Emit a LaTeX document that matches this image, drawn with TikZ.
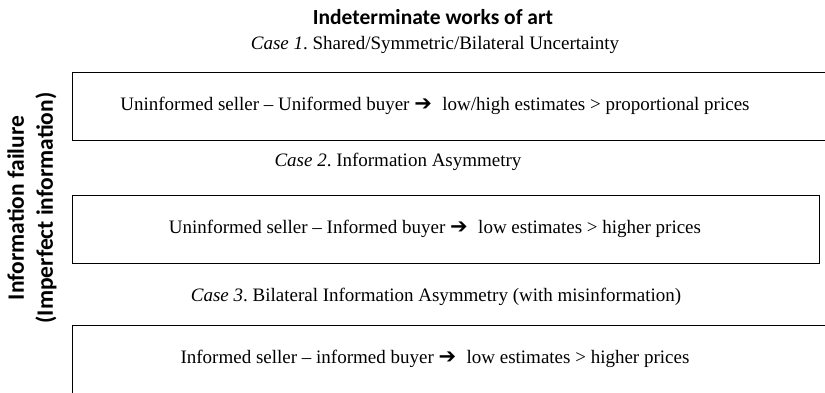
\documentclass[tikz,border=0pt]{standalone}
\usepackage{fontspec}
\setmainfont{Liberation Serif}
\newfontfamily\headfont{Carlito}
\newfontfamily\arrowfont{DejaVu Sans}
\usetikzlibrary{positioning}
\frenchspacing
\newcommand{\infoArrow}{{\arrowfont\fontsize{21}{23}\selectfont ➔}\hspace{0.55em}}

\begin{document}
\begin{tikzpicture}[x=1pt, y=-1pt,
    caseBox/.style={draw, line width=1.3pt, anchor=north west, minimum height=68pt},
    caseText/.style={inner sep=0pt, font=\fontsize{19}{23}\selectfont},
    headText/.style={inner sep=0pt, font=\headfont\bfseries\fontsize{23.5}{29}\selectfont}]
    \clip (0,0) rectangle (825,392);
    % heading
    \node[headText, font=\headfont\bfseries\fontsize{21.5}{26}\selectfont] (title) at (433,17) {Indeterminate works of art};
    \node[headText, rotate=90, align=center] (sideLabel) at (32,208) {Information failure\\(Imperfect information)};
    % case 1
    \node[caseText] (case1) at (435,45) {\textit{Case 1}. Shared/Symmetric/Bilateral Uncertainty};
    \node[caseBox, minimum width=780pt] (box1) at (72,72) {};
    \node[caseText] (row1) at (435,106) {Uninformed seller -- Uniformed buyer \infoArrow low/high estimates {>} proportional prices};
    % case 2
    \node[caseText] (case2) at (398,162) {\textit{Case 2}. Information Asymmetry};
    \node[caseBox, minimum width=747pt] (box2) at (72,195) {};
    \node[caseText] (row2) at (435,229) {Uninformed seller -- Informed buyer \infoArrow low estimates {>} higher prices};
    % case 3
    \node[caseText] (case3) at (436,297) {\textit{Case 3}. Bilateral Information Asymmetry (with misinformation)};
    \node[caseBox, minimum width=780pt, minimum height=80pt] (box3) at (72,325) {};
    \node[caseText] (row3) at (435,359) {Informed seller -- informed buyer \infoArrow low estimates {>} higher prices};
\end{tikzpicture}
\end{document}
